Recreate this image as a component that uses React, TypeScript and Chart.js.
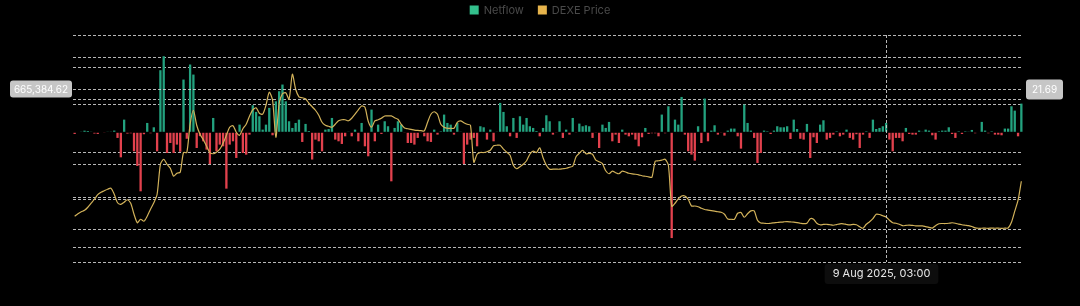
import React, { useEffect, useRef } from "react";
import { Chart, registerables } from "chart.js";

Chart.register(...registerables);

// Daily DEXE exchange netflow (left axis) and DEXE price in USD (right axis)
const netflow: number[] = [
  -26000, 8000, 5000, 25000, 20000, 10000, -20000, -26000, 8000, -10000,
  10000, 5000, 26000, -87000, -386000, 195000, -20000, -15000, -293000, -520000,
  -910000, -30000, 144000, -15000, 77000, -293000, 957000, 1173000, -319000, -165000,
  -319000, -190000, -300000, 813000, -100000, 1045000, 890000, -242000, -60000, -139000,
  -267000, -489000, 221000, -293000, -190000, -216000, -869000, -190000, -139000, -396000,
  118000, -319000, -345000, -36000, 417000, 314000, 247000, 41000, 118000, 376000,
  -46000, 478000, 633000, 736000, 478000, 170000, 67000, 144000, 195000, -149000,
  129000, 20000, -420000, -113000, -139000, -293000, 41000, 50000, 221000, -113000,
  -139000, -180000, -62000, 10000, -62000, 41000, -139000, 144000, -216000, -370000,
  350000, -139000, 118000, -26000, 170000, 93000, -756000, 67000, 170000, 118000,
  -10000, -165000, -165000, -190000, -87000, -10000, -62000, -139000, -149000, 41000,
  -36000, 15000, 273000, 144000, 118000, -36000, 144000, 10000, -489000, -190000,
  -113000, -87000, -216000, 93000, 77000, -113000, 41000, -139000, 10000, 453000,
  314000, 93000, -62000, 221000, -87000, 247000, 118000, 221000, 93000, 67000,
  20000, -62000, 67000, 262000, 170000, -36000, -10000, 170000, -87000, 41000,
  -36000, 221000, -10000, 134000, 93000, 108000, 93000, -87000, -10000, -242000,
  118000, 67000, 160000, -139000, -36000, -165000, 41000, -36000, -62000, -36000,
  -113000, -216000, -77000, 67000, -26000, -15000, -15000, -62000, 273000, -15000,
  401000, -1631000, 195000, 118000, 545000, -36000, -293000, -345000, -437000, 93000,
  -165000, 520000, -139000, 26000, 108000, -36000, -10000, -51000, 26000, 57000,
  57000, -62000, -252000, 427000, 144000, 26000, -87000, -473000, -319000, 26000,
  15000, -26000, 26000, 93000, 77000, 77000, 93000, -103000, 195000, 51000,
  -100000, -113000, 129000, -396000, -77000, -165000, 118000, 185000, -113000, -87000,
  -36000, 15000, -62000, -36000, 41000, -87000, -113000, -30000, -242000, -36000,
  15000, -87000, 195000, 51000, 67000, 93000, 144000, -113000, -293000, -87000,
  -87000, -139000, 67000, -26000, -36000, -36000, 26000, 10000, 41000, 26000,
  -46000, -113000, 15000, 26000, 26000, 77000, -26000, -87000, 15000, -26000,
  15000, 5000, 36000, -15000, 8000, 160000, 26000, -15000, 15000, -36000,
  -36000, -46000, 57000, 57000, 401000, 334000, -62000, 442000,
];

const dexePrice: number[] = [
  8.26, 8.52, 8.73, 8.89, 9.21, 9.63, 10.05, 10.53, 10.79, 10.95,
  11.11, 11.21, 10.58, 9.68, 9.52, 9.74, 10.0, 9.63, 8.47, 7.57,
  7.94, 7.73, 8.26, 9.0, 9.68, 10.58, 13.74, 14.27, 13.74, 13.32,
  12.48, 12.79, 12.9, 14.98, 14.98, 17.96, 19.44, 17.86, 16.91, 16.33,
  15.64, 14.98, 14.85, 15.01, 15.33, 15.96, 16.8, 17.65, 17.81, 17.12,
  16.8, 17.49, 17.96, 18.81, 19.49, 19.7, 19.12, 19.02, 19.97, 21.34,
  20.5, 16.59, 20.18, 21.18, 21.29, 20.6, 23.24, 21.66, 20.86, 20.76,
  20.65, 20.18, 19.81, 19.44, 18.91, 18.17, 17.86, 17.75, 17.65, 17.96,
  18.33, 18.44, 18.44, 18.33, 18.6, 19.02, 19.49, 19.89, 19.76, 18.28,
  17.65, 18.31, 18.44, 18.6, 18.84, 18.84, 18.84, 18.65, 18.49, 17.96,
  17.56, 17.49, 17.42, 17.35, 17.31, 17.29, 17.26, 18.17, 19.02, 19.28,
  19.02, 17.96, 17.65, 17.54, 17.54, 17.54, 18.17, 18.31, 18.12, 17.96,
  17.86, 13.96, 14.8, 14.98, 14.98, 15.06, 15.22, 15.7, 15.75, 15.75,
  15.33, 15.01, 14.69, 13.64, 13.27, 13.48, 13.74, 14.11, 14.8, 15.12,
  14.98, 15.48, 14.43, 13.64, 13.22, 13.22, 13.22, 13.22, 13.27, 13.32,
  13.43, 13.53, 14.54, 14.9, 15.22, 14.85, 14.9, 14.8, 14.17, 14.01,
  13.8, 13.06, 12.74, 13.01, 12.85, 12.74, 13.01, 12.93, 12.79, 12.72,
  12.69, 12.63, 12.53, 12.48, 12.42, 12.37, 14.06, 14.11, 14.17, 14.27,
  13.64, 9.31, 9.63, 10.1, 10.4, 10.4, 10.05, 9.34, 9.34, 9.26,
  9.1, 8.97, 8.91, 8.85, 8.79, 8.73, 8.68, 8.47, 7.96, 7.94,
  7.94, 8.57, 8.65, 8.15, 8.52, 8.82, 8.82, 7.84, 7.55, 7.52,
  7.49, 7.52, 7.56, 7.6, 7.64, 7.67, 7.69, 7.66, 7.63, 7.58,
  7.52, 7.47, 7.52, 8.0, 7.94, 7.52, 7.36, 7.39, 7.41, 7.36,
  7.31, 7.38, 7.46, 7.46, 7.39, 7.34, 7.39, 7.36, 7.15, 6.99,
  7.41, 7.68, 8.0, 8.47, 8.44, 8.31, 8.19, 7.84, 7.57, 7.52,
  7.41, 7.26, 7.29, 7.33, 7.29, 7.25, 7.24, 7.24, 7.16, 7.08,
  7.01, 7.26, 7.47, 7.49, 7.49, 7.52, 7.57, 7.52, 7.43, 7.36,
  7.31, 7.26, 7.17, 7.03, 6.99, 6.99, 7.0, 6.98, 7.01, 6.99,
  7.0, 6.98, 7.0, 7.02, 7.63, 8.79, 9.95, 11.95,
];

const seriesNames = ["Netflow", "DEXE Price"];
const monthNames = ["Jan", "Feb", "Mar", "Apr", "May", "Jun", "Jul", "Aug", "Sep", "Oct", "Nov", "Dec"];
const firstDayUtc = Date.UTC(2024, 11, 6);
const categories: string[] = netflow.map((_, i) => {
  const d = new Date(firstDayUtc + i * 86400000);
  return `${d.getUTCDate()} ${monthNames[d.getUTCMonth()]} ${d.getUTCFullYear()}, 03:00`;
});

const netflowTicks = [-2000000, -1500000, -1000000, -500000, 0, 500000, 1000000, 1500000];
const netflowRange = [-2000000, 1500000];
const priceTicks = [5, 10, 15, 20, 25];
const priceRange = [3.43, 27.38];

const crosshairIndex = 246;
const crosshairNetflow = 665384.62;
const crosshairPrice = 21.69;

const GREEN = "#23a27f";
const RED = "#e2414d";
const GOLD = "#d2b25a";
const GRID = "rgba(215,215,215,0.85)";
const FONT = 'Inter, "Noto Sans", "DejaVu Sans", sans-serif';

const legendPlugin = {
  id: "topLegend",
  afterDraw(chart: any) {
    const ctx = chart.ctx as CanvasRenderingContext2D;
    ctx.save();
    ctx.font = `11px ${FONT}`;
    const box = 9;
    const gap = 5;
    const itemGap = 14;
    const items = [
      { text: seriesNames[0], color: "#33c08c" },
      { text: seriesNames[1], color: "#e6b44c" },
    ];
    const widths = items.map((it) => box + gap + ctx.measureText(it.text).width);
    const total = widths.reduce((a, b) => a + b, 0) + itemGap * (items.length - 1);
    let x = chart.width / 2 - total / 2;
    const cy = 10;
    items.forEach((it, k) => {
      ctx.fillStyle = it.color;
      ctx.fillRect(x, cy - box / 2, box, box);
      ctx.fillStyle = "#4a4a4a";
      ctx.textAlign = "left";
      ctx.textBaseline = "middle";
      ctx.fillText(it.text, x + box + gap, cy + 0.5);
      x += widths[k] + itemGap;
    });
    ctx.restore();
  },
};

function roundRect(ctx: CanvasRenderingContext2D, x: number, y: number, w: number, h: number, r: number) {
  ctx.beginPath();
  ctx.moveTo(x + r, y);
  ctx.lineTo(x + w - r, y);
  ctx.quadraticCurveTo(x + w, y, x + w, y + r);
  ctx.lineTo(x + w, y + h - r);
  ctx.quadraticCurveTo(x + w, y + h, x + w - r, y + h);
  ctx.lineTo(x + r, y + h);
  ctx.quadraticCurveTo(x, y + h, x, y + h - r);
  ctx.lineTo(x, y + r);
  ctx.quadraticCurveTo(x, y, x + r, y);
  ctx.closePath();
}

const crosshairPlugin = {
  id: "crosshair",
  afterDatasetsDraw(chart: any) {
    const { ctx, chartArea, scales } = chart;
    const x = Math.round(scales.x.getPixelForValue(crosshairIndex)) + 0.5;
    const y = Math.round(scales.y.getPixelForValue(crosshairNetflow)) + 0.5;
    ctx.save();
    ctx.strokeStyle = GRID;
    ctx.lineWidth = 1;
    ctx.setLineDash([3, 2]);
    ctx.beginPath();
    ctx.moveTo(x, chartArea.top);
    ctx.lineTo(x, chartArea.bottom);
    ctx.moveTo(chartArea.left, y);
    ctx.lineTo(chartArea.right, y);
    ctx.stroke();
    ctx.setLineDash([]);

    ctx.textAlign = "center";
    ctx.textBaseline = "middle";

    // left value label
    const leftText = crosshairNetflow.toLocaleString("en-US", { minimumFractionDigits: 2, maximumFractionDigits: 2 });
    ctx.font = `10px ${FONT}`;
    const lw = 62;
    roundRect(ctx, chartArea.left - lw - 1, y - 9, lw, 17, 3);
    ctx.fillStyle = "#c6c6c6";
    ctx.fill();
    ctx.fillStyle = "#ffffff";
    ctx.fillText(leftText, chartArea.left - lw / 2 - 1, y);

    // right value label
    const rightText = crosshairPrice.toFixed(2);
    const rw = 37;
    roundRect(ctx, chartArea.right + 3, y - 10, rw, 20, 3);
    ctx.fillStyle = "#c6c6c6";
    ctx.fill();
    ctx.fillStyle = "#ffffff";
    ctx.fillText(rightText, chartArea.right + 3 + rw / 2, y);

    // bottom date label
    ctx.font = `11px ${FONT}`;
    const dateText = categories[crosshairIndex];
    const dw = ctx.measureText(dateText).width + 16;
    roundRect(ctx, x - 5 - dw / 2, chartArea.bottom + 2, dw, 20, 3);
    ctx.fillStyle = "#0d0d0d";
    ctx.fill();
    ctx.fillStyle = "#e8e8e8";
    ctx.fillText(dateText, x - 5, chartArea.bottom + 12);
    ctx.restore();
  },
};

export default function App() {
  const canvasRef = useRef<HTMLCanvasElement>(null);

  useEffect(() => {
    const canvas = canvasRef.current;
    if (!canvas) return;
    const chart = new Chart(canvas, {
      type: "bar",
      data: {
        labels: categories,
        datasets: [
          {
            type: "bar",
            label: seriesNames[0],
            data: netflow,
            yAxisID: "y",
            order: 1,
            backgroundColor: netflow.map((v) => (v >= 0 ? GREEN : RED)),
            borderWidth: 0,
            barPercentage: 0.7,
            categoryPercentage: 1,
          },
          {
            type: "line",
            label: seriesNames[1],
            data: dexePrice,
            yAxisID: "y1",
            order: 0,
            borderColor: GOLD,
            borderWidth: 1.2,
            pointRadius: 0,
            tension: 0.25,
            fill: false,
          },
        ],
      } as any,
      options: {
        animation: false,
        responsive: true,
        maintainAspectRatio: false,
        events: [],
        layout: { padding: { left: 73, right: 57, top: 35, bottom: 44 } },
        plugins: {
          legend: { display: false },
          tooltip: { enabled: false },
        },
        scales: {
          x: {
            type: "category",
            display: false,
            offset: true,
          },
          y: {
            position: "left",
            min: netflowRange[0],
            max: netflowRange[1],
            afterBuildTicks: (axis: any) => {
              axis.ticks = netflowTicks.map((v) => ({ value: v }));
            },
            ticks: { display: false },
            grid: {
              drawTicks: false,
              color: (c: any) => (c.tick && c.tick.value === 0 ? "rgba(0,0,0,0)" : GRID),
              lineWidth: 1,
            },
            border: { display: false, dash: [3, 2] },
          },
          y1: {
            position: "right",
            min: priceRange[0],
            max: priceRange[1],
            afterBuildTicks: (axis: any) => {
              axis.ticks = priceTicks.map((v) => ({ value: v }));
            },
            ticks: { display: false },
            grid: { drawTicks: false, color: GRID, lineWidth: 1 },
            border: { display: false, dash: [3, 2] },
          },
        },
      } as any,
      plugins: [legendPlugin, crosshairPlugin],
    });
    return () => chart.destroy();
  }, []);

  return (
    <div style={{ position: "fixed", left: 0, top: 0, width: 1080, height: 306, background: "#000" }}>
      <canvas ref={canvasRef} />
    </div>
  );
}
